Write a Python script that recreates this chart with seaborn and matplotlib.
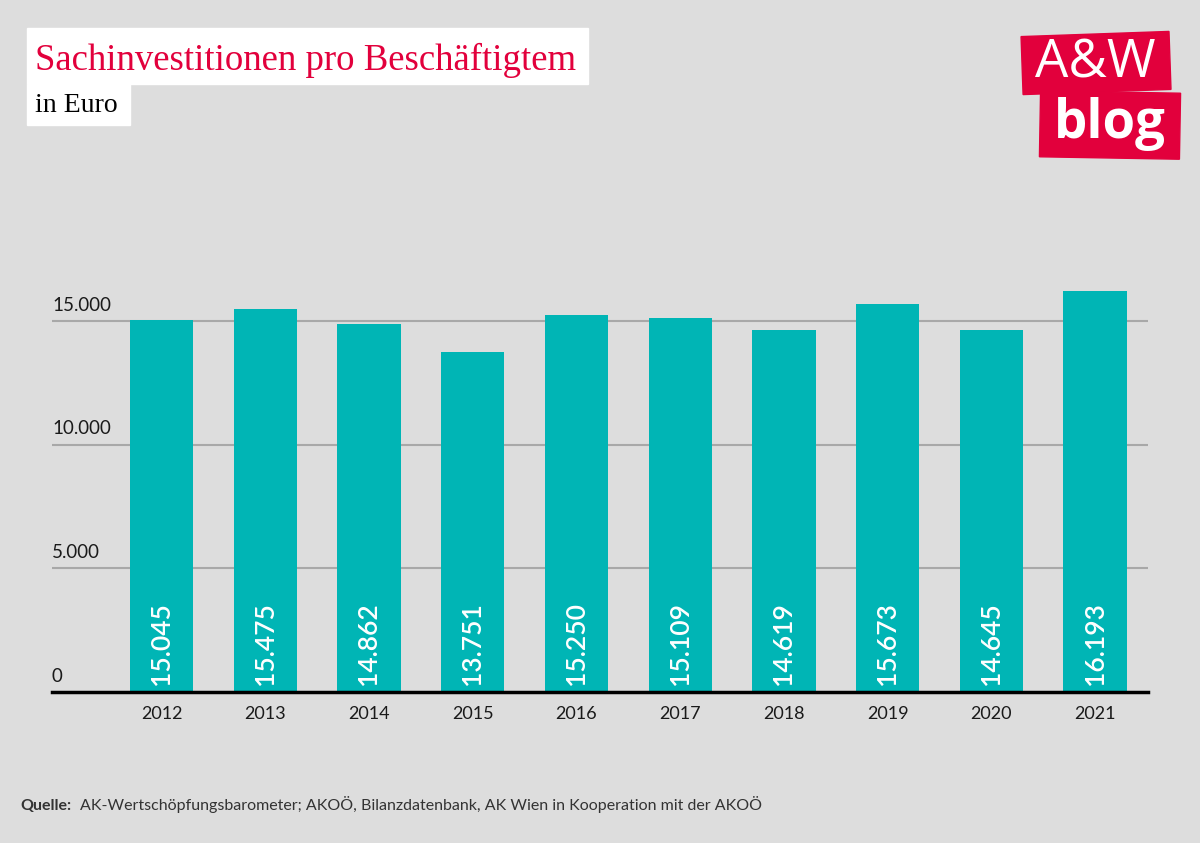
import matplotlib
matplotlib.use("Agg")
import matplotlib.pyplot as plt
import seaborn as sns
import pandas as pd
from matplotlib.patches import Rectangle
import matplotlib.transforms as mtransforms

years = ["2012", "2013", "2014", "2015", "2016", "2017", "2018", "2019", "2020", "2021"]
values = [15045, 15475, 14862, 13751, 15250, 15109, 14619, 15673, 14645, 16193]
value_labels = ["15.045", "15.475", "14.862", "13.751", "15.250", "15.109", "14.619", "15.673", "14.645", "16.193"]
yticks = [0, 5000, 10000, 15000]
ytick_labels = ["0", "5.000", "10.000", "15.000"]

title = "Sachinvestitionen pro Beschäftigtem"
subtitle = "in Euro"
source_bold = "Quelle:"
source_text = "AK-Wertschöpfungsbarometer; AKOÖ, Bilanzdatenbank, AK Wien in Kooperation mit der AKOÖ"

BG = "#dddddd"
BAR = "#00b5b5"
RED = "#e2003c"

sns.set_theme(style="white")
plt.rcParams['font.family'] = ['Lato', 'DejaVu Sans']

fig = plt.figure(figsize=(12, 8.43), dpi=100, facecolor=BG)
W, H = 1200, 843
ax = fig.add_axes([52 / W, 1 - 692 / H, (1148 - 52) / W, (692 - 250) / H])
ax.set_facecolor(BG)

df = pd.DataFrame({"year": years, "value": values})
sns.barplot(data=df, x="year", y="value", color=BAR, width=0.61, ax=ax,
            saturation=1, zorder=3, linewidth=0, edgecolor="none")

ymax = (692 - 250) / ((692 - 321) / 15000)
ax.set_ylim(0, ymax)
ax.set_xlim(-1.056, 9.51)

for y in yticks[1:]:
    ax.axhline(y, color="#a8a8a8", lw=1.5, zorder=1)

ax.set_yticks([])
for y, lab in zip(yticks, ytick_labels):
    ax.text(0, y + 300, lab, transform=ax.get_yaxis_transform(), ha="left", va="bottom",
            fontsize=13.5, color="#1a1a1a")

ax.tick_params(axis="x", length=0, pad=10, labelsize=13, labelcolor="#1a1a1a")
ax.set_xlabel("")
ax.set_ylabel("")
for s in ["top", "right", "left"]:
    ax.spines[s].set_visible(False)
ax.spines["bottom"].set_color("black")
ax.spines["bottom"].set_linewidth(2.5)
ax.spines["bottom"].set_zorder(5)

for i, lab in enumerate(value_labels):
    ax.text(i, 300, lab, rotation=90, ha="center", va="bottom", color="white",
            fontsize=19, fontweight="semibold", zorder=4)

# title boxes
fig.patches.append(Rectangle((27 / W, 1 - 84 / H), (588 - 27) / W, (84 - 28) / H,
                             transform=fig.transFigure, color="white", zorder=0))
fig.text(35 / W, 1 - 60 / H, title, fontsize=26.5, color=RED, va="center", ha="left",
         family=["Liberation Serif"], zorder=2)
fig.patches.append(Rectangle((27 / W, 1 - 125 / H), (130 - 27) / W, (125 - 84) / H,
                             transform=fig.transFigure, color="white", zorder=0))
fig.text(35 / W, 1 - 106 / H, subtitle, fontsize=20, color="black", va="center", ha="left",
         family=["Liberation Serif"], zorder=2)

# logo (slightly tilted boxes)
r1 = Rectangle((1022, H - 92), 148, 58, color=RED, zorder=0,
               transform=mtransforms.Affine2D().rotate_deg_around(1096, H - 62, 2))
r2 = Rectangle((1040, H - 158), 140, 66, color=RED, zorder=0,
               transform=mtransforms.Affine2D().rotate_deg_around(1110, H - 125, -1))
fig.patches.extend([r1, r2])
fig.text(1095 / W, 1 - 64 / H, "A&W", fontsize=38, color="white", ha="center", va="center",
         family=["Open Sans"], fontweight="normal")
fig.text(1110 / W, 1 - 124 / H, "blog", fontsize=38, color="white", ha="center", va="center",
         family=["Open Sans"], fontweight="bold")

# source
fig.text(20 / W, 1 - 810 / H, source_bold, fontsize=11.5, fontweight="bold", color="#333333",
         va="baseline", ha="left")
fig.text(80 / W, 1 - 810 / H, source_text, fontsize=11.5, color="#333333", va="baseline", ha="left")

fig.savefig("out.png", dpi=100, facecolor=BG)
